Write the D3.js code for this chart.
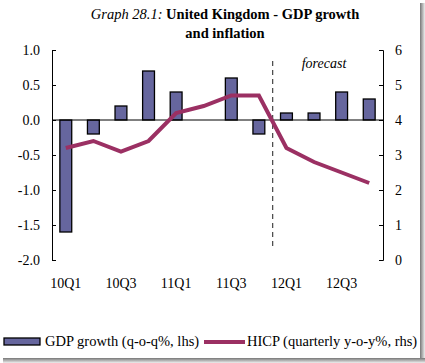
<!DOCTYPE html>
<html>
<head>
<meta charset="utf-8">
<script src="https://cdn.jsdelivr.net/npm/d3@7/dist/d3.min.js"></script>
<style>
  body { margin: 0; background: #fff; }
  svg text { font-family: "Liberation Serif", "Times New Roman", serif; fill: #000; }
</style>
</head>
<body>
<div id="chart"></div>
<script>
var w = 425;
var h = 363;

// quarters and values
var quarters = ['10Q1', '10Q2', '10Q3', '10Q4', '11Q1', '11Q2', '11Q3', '11Q4', '12Q1', '12Q2', '12Q3', '12Q4'];
var gdpGrowth = [-1.6, -0.2, 0.2, 0.7, 0.4, 0.0, 0.6, -0.2, 0.1, 0.1, 0.4, 0.3];
var hicp = [3.2, 3.4, 3.1, 3.4, 4.2, 4.4, 4.7, 4.7, 3.2, 2.8, 2.5, 2.2];
var leftTicks = [-2.0, -1.5, -1.0, -0.5, 0.0, 0.5, 1.0];
var rightTicks = [0, 1, 2, 3, 4, 5, 6];
var forecastStart = '12Q1';

var plotL = 52, plotR = 383, plotT = 50, plotB = 260;

var svg = d3.select('#chart')
    .append('svg')
    .attr('width', w)
    .attr('height', h);

// frame shadow on right / bottom
var defs = svg.append('defs');
var gr = defs.append('linearGradient').attr('id', 'shR');
gr.append('stop').attr('offset', '0%').attr('stop-color', '#777');
gr.append('stop').attr('offset', '100%').attr('stop-color', '#eee');
var gb = defs.append('linearGradient').attr('id', 'shB').attr('x1', 0).attr('x2', 0).attr('y1', 0).attr('y2', 1);
gb.append('stop').attr('offset', '0%').attr('stop-color', '#777');
gb.append('stop').attr('offset', '100%').attr('stop-color', '#eee');
svg.append('rect').attr('x', 420).attr('y', 3).attr('width', 5).attr('height', 360).attr('fill', 'url(#shR)');
svg.append('rect').attr('x', 3).attr('y', 358).attr('width', 422).attr('height', 5).attr('fill', 'url(#shB)');

var x = d3.scaleBand()
    .domain(quarters)
    .range([plotL, plotR])
    .paddingInner(0.57)
    .paddingOuter(0.285);

var xc = d3.scaleBand().domain(quarters).range([plotL, plotR]);

var yL = d3.scaleLinear().domain([-2, 1]).range([plotB, plotT]);
var yR = d3.scaleLinear().domain([0, 6]).range([plotB, plotT]);

// title
var title = svg.append('text')
    .attr('x', 225)
    .attr('y', 19)
    .attr('text-anchor', 'middle')
    .style('font-size', '14.5px');
title.append('tspan').style('font-style', 'italic').text('Graph 28.1: ');
title.append('tspan').style('font-weight', 'bold').text('United Kingdom - GDP growth');
svg.append('text')
    .attr('x', 225)
    .attr('y', 38)
    .attr('text-anchor', 'middle')
    .style('font-size', '14.5px')
    .style('font-weight', 'bold')
    .text('and inflation');

// bars
svg.append('g')
    .selectAll('rect')
    .data(gdpGrowth)
    .enter()
    .append('rect')
    .attr('x', function(d, i) { return x(quarters[i]); })
    .attr('y', function(d) { return yL(Math.max(0, d)); })
    .attr('width', x.bandwidth())
    .attr('height', function(d) { return Math.abs(yL(d) - yL(0)); })
    .attr('fill', '#66669e')
    .attr('stroke', '#000')
    .attr('stroke-width', 1.3)
    .style('display', function(d) { return d === 0 ? 'none' : null; });

// zero line
svg.append('line')
    .attr('x1', plotL).attr('x2', plotR)
    .attr('y1', yL(0)).attr('y2', yL(0))
    .attr('stroke', '#000').attr('stroke-width', 1);

// forecast divider
var fx = xc(forecastStart);
svg.append('line')
    .attr('x1', fx).attr('x2', fx)
    .attr('y1', 61).attr('y2', 246)
    .attr('stroke', '#444')
    .attr('stroke-width', 1.2)
    .attr('stroke-dasharray', '5,4');

svg.append('text')
    .attr('x', 324)
    .attr('y', 68)
    .attr('text-anchor', 'middle')
    .style('font-size', '14px')
    .style('font-style', 'italic')
    .text('forecast');

// HICP line
var line = d3.line()
    .x(function(d, i) { return xc(quarters[i]) + xc.bandwidth() / 2; })
    .y(function(d) { return yR(d); });

svg.append('path')
    .datum(hicp)
    .attr('d', line)
    .attr('fill', 'none')
    .attr('stroke', '#9b3063')
    .attr('stroke-width', 4);

// axes
var axL = d3.axisLeft(yL)
    .tickValues(leftTicks)
    .tickSizeInner(-4)
    .tickSizeOuter(-4)
    .tickPadding(12)
    .tickFormat(d3.format('.1f'));
var gL = svg.append('g')
    .attr('transform', 'translate(' + plotL + ',0)')
    .call(axL);

var axR = d3.axisRight(yR)
    .tickValues(rightTicks)
    .tickSizeInner(-4)
    .tickSizeOuter(-4)
    .tickPadding(12)
    .tickFormat(d3.format('d'));
var gR = svg.append('g')
    .attr('transform', 'translate(' + plotR + ',0)')
    .call(axR);

[gL, gR].forEach(function(g) {
    g.selectAll('path, line').attr('stroke', '#000');
    g.selectAll('text')
        .style('font-size', '14px')
        .style('font-family', '"Liberation Serif", serif')
        .attr('fill', '#000');
});
gL.selectAll('text').text(function(d) { return d3.format('.1f')(d).replace('\u2212', '-'); });

// category labels
svg.append('g')
    .selectAll('text')
    .data(quarters.filter(function(q, i) { return i % 2 === 0; }))
    .enter()
    .append('text')
    .attr('x', function(d) { return xc(d) + xc.bandwidth() / 2; })
    .attr('y', 288)
    .attr('text-anchor', 'middle')
    .style('font-size', '14px')
    .text(function(d) { return d; });

// legend
var lg = svg.append('g');
lg.append('rect')
    .attr('x', 4).attr('y', 338)
    .attr('width', 36).attr('height', 7)
    .attr('fill', '#66669e')
    .attr('stroke', '#000')
    .attr('stroke-width', 1.3);
lg.append('text')
    .attr('x', 45).attr('y', 346)
    .style('font-size', '14.5px')
    .text('GDP growth (q-o-q%, lhs)');
lg.append('line')
    .attr('x1', 204).attr('x2', 245)
    .attr('y1', 342).attr('y2', 342)
    .attr('stroke', '#9b3063')
    .attr('stroke-width', 4);
lg.append('text')
    .attr('x', 247).attr('y', 346)
    .style('font-size', '14.5px')
    .text('HICP (quarterly y-o-y%, rhs)');
</script>
</body>
</html>
